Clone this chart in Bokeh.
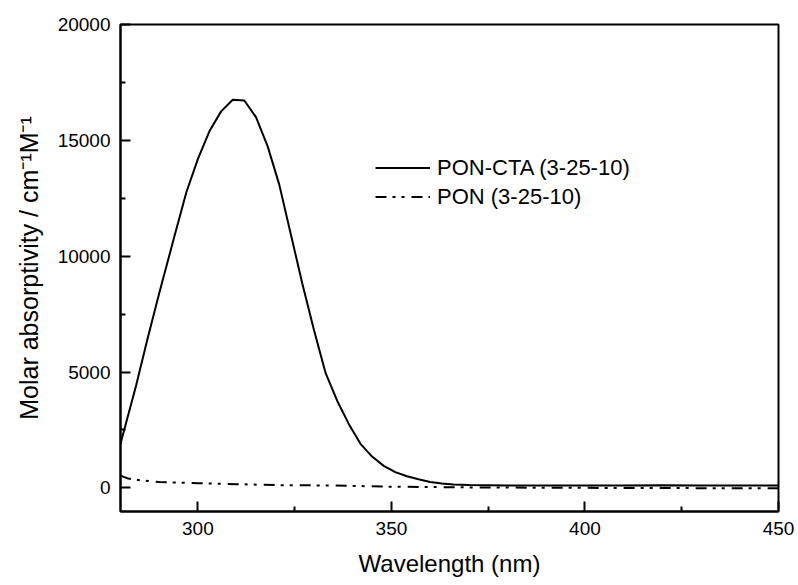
from bokeh.plotting import figure
from bokeh.models import FixedTicker, Legend, LegendItem, Range1d
from bokeh.embed import file_html
from bokeh.resources import INLINE

# PON-CTA (3-25-10)
wl_cta = [280, 284, 287, 290, 294, 297, 300, 303, 306, 309, 312, 315, 318, 321,
          324, 327, 330, 333, 336, 339, 342, 345, 348, 351, 354, 357, 360, 363,
          366, 370, 380, 390, 400, 410, 420, 430, 440, 450]
eps_cta = [1900, 4400, 6450, 8400, 10900, 12750, 14200, 15400, 16250, 16750, 16720,
           16000, 14750, 13100, 10950, 8800, 6800, 4950, 3750, 2750, 1900, 1350,
           950, 680, 500, 370, 250, 190, 150, 120, 100, 100, 100, 100, 110, 100, 100, 100]

# PON (3-25-10)
wl_pon = [280, 282, 285, 290, 300, 310, 320, 335, 350, 370, 400, 425, 450]
eps_pon = [530, 400, 330, 250, 200, 160, 120, 100, 50, 20, 0, -10, -20]

x_major = [300, 350, 400, 450]
x_minor = [325, 375, 425]
y_major = [0, 5000, 10000, 15000, 20000]
y_minor = [2500, 7500, 12500, 17500]

FONT = "Liberation Sans"

p = figure(width=798, height=585, output_backend="svg", toolbar_location=None,
           x_range=Range1d(280, 450), y_range=Range1d(-1020, 20000),
           min_border_left=120, min_border_right=20, min_border_top=24,
           min_border_bottom=74)
p.grid.visible = False
p.outline_line_color = "black"
p.outline_line_width = 2
p.background_fill_color = "white"
p.border_fill_color = "white"

r1 = p.line(wl_cta, eps_cta, line_color="black", line_width=2)
r2 = p.line(wl_pon, eps_pon, line_color="black", line_width=2, line_dash="11 6 3 6 3 7")

for ax in (p.xaxis[0], p.yaxis[0]):
    ax.axis_line_width = 2
    ax.axis_line_color = "black"
    ax.major_tick_in = 10
    ax.major_tick_out = 0
    ax.minor_tick_in = 5
    ax.minor_tick_out = 0
    ax.major_tick_line_width = 2
    ax.minor_tick_line_width = 2
    ax.major_label_text_font = FONT
    ax.major_label_text_font_size = "19px"
    ax.major_label_text_color = "black"
    ax.axis_label_text_font = FONT
    ax.axis_label_text_font_style = "normal"
    ax.axis_label_text_color = "black"

p.xaxis[0].axis_label_text_font_size = "24px"
p.yaxis[0].axis_label_text_font_size = "25px"
p.xaxis[0].ticker = FixedTicker(ticks=x_major, minor_ticks=x_minor)
p.yaxis[0].ticker = FixedTicker(ticks=y_major, minor_ticks=y_minor)
p.xaxis[0].major_label_standoff = 10
p.yaxis[0].major_label_standoff = 10
p.xaxis[0].axis_label = "Wavelength (nm)"
p.yaxis[0].axis_label = "Molar absorptivity / cm\u207b\u00b9M\u207b\u00b9"
p.xaxis[0].axis_label_standoff = 12
p.yaxis[0].axis_label_standoff = 12

legend = Legend(items=[LegendItem(label="PON-CTA (3-25-10)", renderers=[r1]),
                       LegendItem(label="PON (3-25-10)", renderers=[r2])],
                location=(255, 300), padding=0, margin=0, spacing=0,
                glyph_width=55, glyph_height=29, label_height=29,
                label_standoff=7, border_line_color=None,
                background_fill_alpha=0,
                label_text_font=FONT, label_text_font_size="22px",
                label_text_color="black")
p.add_layout(legend)

open("out.html", "w").write(file_html(p, INLINE))
